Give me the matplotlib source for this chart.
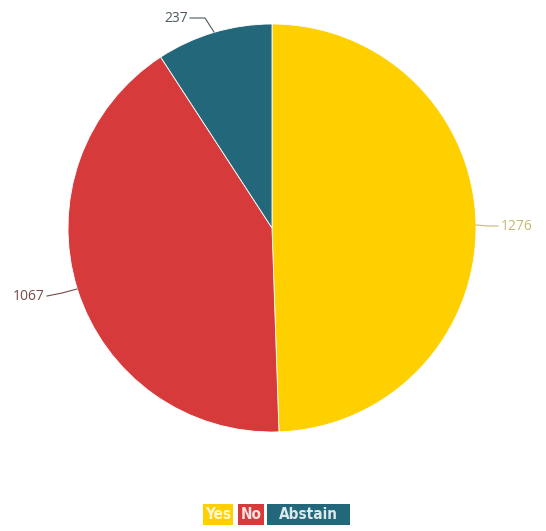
import matplotlib.pyplot as plt
from matplotlib.patches import Rectangle

labels = ["Yes", "No", "Abstain"]
votes = [1276, 1067, 237]
colors = ["#FFD000", "#D63A3A", "#23687A"]
label_colors = ["#C9B870", "#7A4A4A", "#4A5A60"]

W, H = 546, 531
cx, cy, r = 272, 228, 204

fig = plt.figure(figsize=(W / 100, H / 100), dpi=100)
ax = fig.add_axes([(cx - r) / W, (H - cy - r) / H, 2 * r / W, 2 * r / H])
wedges, _ = ax.pie(votes, colors=colors, startangle=90, counterclock=False,
                   wedgeprops=dict(edgecolor="white", linewidth=0.6))
ax.set_xlim(-1, 1)
ax.set_ylim(-1, 1)
ax.set_aspect("equal")
ax.axis("off")


def px(x, y):
    return ((x - cx) / r, (cy - y) / r)


# leader lines + labels (arc point -> elbow -> end)
leaders = [
    [(476, 225), (488, 226), (498, 226)],
    [(77, 289), (62, 293), (47, 296)],
    [(214, 32), (205, 18), (190, 18)],
]
text_pos = [(501, 226, "left"), (45, 296, "right"), (188, 18, "right")]

for i, pts in enumerate(leaders):
    d = [px(*p) for p in pts]
    ax.plot([p[0] for p in d], [p[1] for p in d], color=label_colors[i],
            lw=0.8, clip_on=False)
    tx, ty, ha = text_pos[i]
    x, y = px(tx, ty)
    ax.text(x, y, str(votes[i]), ha=ha, va="center", fontsize=10,
            color=label_colors[i], family="Open Sans", clip_on=False)

# legend as coloured boxes with white text
boxes = [(203, 233), (238, 264), (267, 350)]
y0, y1 = 504, 525
for i, lab in enumerate(labels):
    x0, x1 = boxes[i]
    fig.add_artist(Rectangle((x0 / W, 1 - y1 / H), (x1 - x0) / W, (y1 - y0) / H,
                             transform=fig.transFigure, fc=colors[i], ec="none"))
    fig.text((x0 + x1) / 2 / W, 1 - (y0 + y1) / 2 / H, lab, ha="center",
             va="center", fontsize=11, color="white", alpha=0.85,
             family="DejaVu Sans", fontstretch="condensed", fontweight="bold")

fig.savefig("out.png", dpi=100)
